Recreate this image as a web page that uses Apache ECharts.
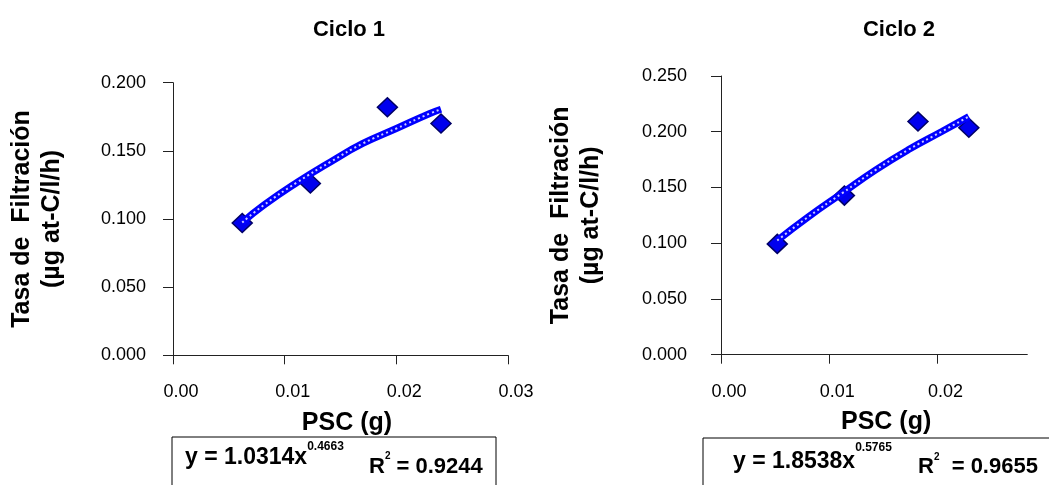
<!DOCTYPE html>
<html>
<head>
<meta charset="utf-8">
<title>Tasa de Filtración vs PSC</title>
<script src="https://cdn.jsdelivr.net/npm/echarts@6/dist/echarts.min.js"></script>
<style>
    html, body { margin: 0; padding: 0; background: #fff; }
    #chart { width: 1049px; height: 485px; }
</style>
</head>
<body>
<div id="chart"></div>
<script>
// Ciclo 1: puntos medidos y línea de tendencia (potencial)
const ciclo1X = [0.0062, 0.0123, 0.0192, 0.0240];
const ciclo1Y = [0.097, 0.126, 0.182, 0.170];
const tend1X = [0.0062, 0.0081, 0.0111, 0.0141, 0.0170, 0.0200, 0.0230, 0.0240];
const tend1Y = [0.0975, 0.1100, 0.1268, 0.1419, 0.1554, 0.1664, 0.1774, 0.1805];

// Ciclo 2
const ciclo2X = [0.0052, 0.0114, 0.0182, 0.0229];
const ciclo2Y = [0.0994, 0.1427, 0.2092, 0.2035];
const tend2X = [0.0052, 0.0081, 0.0112, 0.0143, 0.0173, 0.0204, 0.0229];
const tend2Y = [0.1025, 0.1239, 0.1449, 0.1658, 0.1838, 0.2002, 0.2136];

// ticks
const xTicks1 = [0, 0.01, 0.02, 0.03];
const xTicks2 = [0, 0.01, 0.02];

const titulos = ['Ciclo 1', 'Ciclo 2'];
const ecuaciones = [
    {a: 'y = 1.0314x', b: '0.4663', r: ' = 0.9244'},
    {a: 'y = 1.8538x', b: '0.5765', r: '  = 0.9655'}
];

const FONT = '"Liberation Sans", Arial, sans-serif';

function pares(xs, ys) {
    return xs.map(function (x, i) { return [x, ys[i]]; });
}

function ejeX(idx, max, ticks, namePad) {
    return {
        gridIndex: idx
        , type: 'value'
        , min: 0
        , max: max
        , name: 'PSC (g)'
        , nameLocation: 'middle'
        , nameGap: 55
        , nameTextStyle: {fontFamily: FONT, fontSize: 25, fontWeight: 'bold', color: '#000', padding: [0, 0, 0, namePad]}
        , splitLine: {show: false}
        , axisLine: {lineStyle: {color: '#222', width: 1}}
        , axisTick: {length: 9, customValues: ticks, lineStyle: {color: '#222'}}
        , axisLabel: {
            customValues: ticks
            , margin: 28
            , fontFamily: FONT
            , fontSize: 18
            , color: '#000'
            , padding: [0, 0, 0, 16]
            , formatter: function (v) { return v.toFixed(2); }
        }
    };
}

function ejeY(idx, max, gap, margin, pad) {
    return {
        gridIndex: idx
        , type: 'value'
        , min: 0
        , max: max
        , interval: 0.05
        , name: 'Tasa de  Filtración\n(µg at-C/l/h)'
        , nameLocation: 'middle'
        , nameGap: gap
        , nameTextStyle: {fontFamily: FONT, fontSize: 25, fontWeight: 'bold', color: '#000', lineHeight: 30}
        , splitLine: {show: false}
        , axisLine: {show: true, lineStyle: {color: '#222', width: 1}}
        , axisTick: {show: true, length: 10, lineStyle: {color: '#222'}}
        , axisLabel: {
            margin: margin
            , fontFamily: FONT
            , fontSize: 18
            , color: '#000'
            , padding: pad
            , formatter: function (v) { return v.toFixed(3); }
        }
    };
}

// banda azul con trama blanca, como la línea de tendencia de Excel
function tendencia(idx, data) {
    return [
        {
            type: 'line'
            , xAxisIndex: idx
            , yAxisIndex: idx
            , data: data
            , smooth: true
            , showSymbol: false
            , lineStyle: {color: '#0000ff', width: 7}
        }
        , {
            type: 'line'
            , xAxisIndex: idx
            , yAxisIndex: idx
            , data: data
            , smooth: true
            , showSymbol: false
            , lineStyle: {color: '#ffffff', width: 2, type: [2, 3], opacity: 0.8}
        }
    ];
}

function puntos(idx, data) {
    return {
        type: 'scatter'
        , xAxisIndex: idx
        , yAxisIndex: idx
        , data: data
        , symbol: 'diamond'
        , symbolSize: [20, 19]
        , itemStyle: {color: '#0000ee', borderColor: '#000066', borderWidth: 1.5, opacity: 1}
    };
}

function ecuacion(x, yTop, eq, gapSup) {
    return {
        type: 'text'
        , x: x
        , y: yTop
        , style: {
            text: '{m|' + eq.a + '}{s|' + eq.b + '}'
            , align: 'left'
            , verticalAlign: 'top'
            , rich: {
                m: {fontFamily: FONT, fontSize: 23, fontWeight: 'bold', fill: '#000', lineHeight: 14 + gapSup * 2, verticalAlign: 'middle'}
                , s: {fontFamily: FONT, fontSize: 12, fontWeight: 'bold', fill: '#000', lineHeight: 14, verticalAlign: 'top'}
            }
        }
    };
}

function erre(x, yTop, eq) {
    return {
        type: 'text'
        , x: x
        , y: yTop
        , style: {
            text: '{m|R}{s|2}{m|' + eq.r + '}'
            , align: 'left'
            , verticalAlign: 'top'
            , rich: {
                m: {fontFamily: FONT, fontSize: 22, fontWeight: 'bold', fill: '#000', lineHeight: 30, verticalAlign: 'middle'}
                , s: {fontFamily: FONT, fontSize: 10, fontWeight: 'bold', fill: '#000', lineHeight: 14, verticalAlign: 'top'}
            }
        }
    };
}

const chart = echarts.init(document.getElementById('chart'));
chart.setOption({
    animation: false
    , backgroundColor: '#fff'
    , grid: [
        {left: 173, top: 82.7, width: 335, height: 272.6}
        , {left: 721, top: 76, width: 306.3, height: 278.7}
    ]
    , xAxis: [ejeX(0, 0.03, xTicks1, 13), ejeX(1, 0.0283, xTicks2, 24)]
    , yAxis: [ejeY(0, 0.2, 106, 27, [8, 0, 0, 0]), ejeY(1, 0.25, 115, 34, [0, 0, 10, 0])]
    , series: [].concat(
        tendencia(0, pares(tend1X, tend1Y))
        , [puntos(0, pares(ciclo1X, ciclo1Y))]
        , tendencia(1, pares(tend2X, tend2Y))
        , [puntos(1, pares(ciclo2X, ciclo2Y))]
    )
    , graphic: [
        {type: 'text', x: 349, y: 30, style: {text: titulos[0], font: 'bold 22px ' + FONT, fill: '#000', align: 'center', verticalAlign: 'middle'}}
        , {type: 'text', x: 899, y: 30, style: {text: titulos[1], font: 'bold 22px ' + FONT, fill: '#000', align: 'center', verticalAlign: 'middle'}}
        , {type: 'rect', shape: {x: 172, y: 437, width: 324, height: 70}, style: {fill: '#fff', stroke: '#000', lineWidth: 1}}
        , {type: 'rect', shape: {x: 703, y: 438, width: 360, height: 70}, style: {fill: '#fff', stroke: '#000', lineWidth: 1}}
        , ecuacion(185, 441, ecuaciones[0], 10)
        , erre(369, 451.5, ecuaciones[0])
        , ecuacion(733, 442, ecuaciones[1], 13)
        , erre(918, 452, ecuaciones[1])
    ]
});
</script>
</body>
</html>
